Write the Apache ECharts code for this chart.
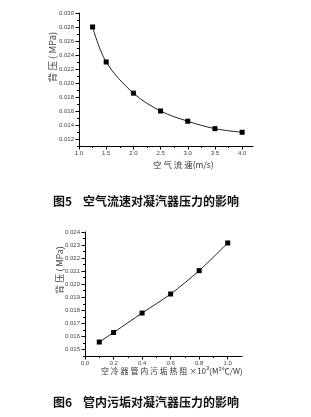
<!DOCTYPE html>
<html><head><meta charset="utf-8">
<script src="https://cdn.jsdelivr.net/npm/echarts@6/dist/echarts.min.js"></script>
<style>html,body{margin:0;padding:0;background:#fff}#c{width:311px;height:417px}</style>
</head><body><div id="c"></div>
<script>
// Figure 5: air velocity vs back pressure
const speed = [1.25, 1.5, 2.0, 2.5, 3.0, 3.5, 4.0];
const pressure1 = [0.0280, 0.0230, 0.01855, 0.0160, 0.01454, 0.01348, 0.01296];
const yTicks1 = [0.012, 0.014, 0.016, 0.018, 0.020, 0.022, 0.024, 0.026, 0.028, 0.030];
const yMinor1 = [0.011, 0.013, 0.015, 0.017, 0.019, 0.021, 0.023, 0.025, 0.027, 0.029];
const xTicks1 = [1.0, 1.5, 2.0, 2.5, 3.0, 3.5, 4.0];
const xMinor1 = [1.25, 1.75, 2.25, 2.75, 3.25, 3.75];
// Figure 6: fouling resistance vs back pressure
const fouling = [0.1, 0.2, 0.4, 0.6, 0.8, 1.0];
const pressure2 = [0.01557, 0.0163, 0.01779, 0.01925, 0.02104, 0.02316];
const yTicks2 = [0.015, 0.016, 0.017, 0.018, 0.019, 0.020, 0.021, 0.022, 0.023, 0.024];
const yMinor2 = [0.0145, 0.0155, 0.0165, 0.0175, 0.0185, 0.0195, 0.0205, 0.0215, 0.0225, 0.0235];
const xTicks2 = [0.0, 0.2, 0.4, 0.6, 0.8, 1.0];
const xMinor2 = [0.1, 0.3, 0.5, 0.7, 0.9];

const LBL = {fontSize: 6, color: '#444', fontFamily: 'Liberation Sans'};
function valAxis(grid, min, max, ticks, minor, dec, isY) {
  const pos = isY ? 'left' : 'bottom';
  const main = {
    type: 'value', gridIndex: grid, min: min, max: max, position: pos,
    splitLine: {show: false},
    axisLine: {show: true, onZero: false, lineStyle: {color: '#000', width: 1}},
    axisTick: {show: true, inside: false, length: 3.5, customValues: ticks, lineStyle: {color: '#000', width: 1}},
    axisLabel: Object.assign({show: true, margin: isY ? 5 : 4, customValues: ticks,
      formatter: v => Number(v).toFixed(dec)}, LBL)
  };
  const mn = {
    type: 'value', gridIndex: grid, min: min, max: max, position: pos,
    splitLine: {show: false},
    axisLine: {show: false, onZero: false},
    axisTick: {show: true, inside: false, length: 2, customValues: minor, lineStyle: {color: '#000', width: 1}},
    axisLabel: {show: false}
  };
  return [main, mn];
}
const x1 = valAxis(0, 1.0, 4.2, xTicks1, xMinor1, 1, false);
const y1 = valAxis(0, 0.011, 0.030, yTicks1, yMinor1, 3, true);
const x2 = valAxis(1, 0.0, 1.1, xTicks2, xMinor2, 1, false);
const y2 = valAxis(1, 0.0145, 0.024, yTicks2, yMinor2, 3, true);

const chart = echarts.init(document.getElementById('c'), null, {renderer: 'canvas'});
const nameStyle = {fill: '#333', fontFamily: 'Noto Sans CJK SC', fontSize: 8};
chart.setOption({
  animation: false,
  backgroundColor: '#fff',
  grid: [
    {left: 79, top: 13, width: 174, height: 133},
    {left: 85, top: 232, width: 157, height: 124}
  ],
  xAxis: [x1[0], x1[1], x2[0], x2[1]],
  yAxis: [y1[0], y1[1], y2[0], y2[1]],
  series: [
    {type: 'line', xAxisIndex: 0, yAxisIndex: 0, data: speed.map((v, i) => [v, pressure1[i]]),
     smooth: 0.35, symbol: 'rect', symbolSize: 5, showAllSymbol: true,
     itemStyle: {color: '#000'}, lineStyle: {color: '#222', width: 1}},
    {type: 'line', xAxisIndex: 2, yAxisIndex: 2, data: fouling.map((v, i) => [v, pressure2[i]]),
     smooth: 0.3, symbol: 'rect', symbolSize: 5, showAllSymbol: true,
     itemStyle: {color: '#000'}, lineStyle: {color: '#222', width: 1}}
  ],
  graphic: [
    {type: 'text', x: 52, y: 57, rotation: Math.PI / 2,
     style: {text: '背 压 ( MPa)', fill: '#444', fontFamily: 'Noto Sans CJK SC', fontSize: 9.5, align: 'center', verticalAlign: 'middle'}},
    {type: 'text', x: 153, y: 165,
     style: Object.assign({text: '空 气 流 速(m/s)', align: 'left', verticalAlign: 'middle'}, nameStyle, {fontSize: 8.5})},
    {type: 'text', x: 53, y: 201,
     style: {text: '图5', fill: '#111', fontFamily: 'Noto Sans CJK SC', fontWeight: 'bold', fontSize: 12, align: 'left', verticalAlign: 'middle'}},
    {type: 'text', x: 83, y: 201,
     style: {text: '空气流速对凝汽器压力的影响', fill: '#111', fontFamily: 'Noto Sans CJK SC', fontWeight: 'bold', fontSize: 12, align: 'left', verticalAlign: 'middle'}},
    {type: 'text', x: 60, y: 270, rotation: Math.PI / 2,
     style: {text: '背 压 ( MPa)', fill: '#444', fontFamily: 'Noto Sans CJK SC', fontSize: 9, align: 'center', verticalAlign: 'middle'}},
    {type: 'text', x: 101, y: 371,
     style: Object.assign({text: '空 冷 器 管 内 污 垢 热 阻 ×10³(M²℃/W)', align: 'left', verticalAlign: 'middle'}, nameStyle)},
    {type: 'text', x: 53, y: 402,
     style: {text: '图6', fill: '#111', fontFamily: 'Noto Sans CJK SC', fontWeight: 'bold', fontSize: 12, align: 'left', verticalAlign: 'middle'}},
    {type: 'text', x: 83, y: 402,
     style: {text: '管内污垢对凝汽器压力的影响', fill: '#111', fontFamily: 'Noto Sans CJK SC', fontWeight: 'bold', fontSize: 12, align: 'left', verticalAlign: 'middle'}}
  ]
});
</script>
</body></html>
